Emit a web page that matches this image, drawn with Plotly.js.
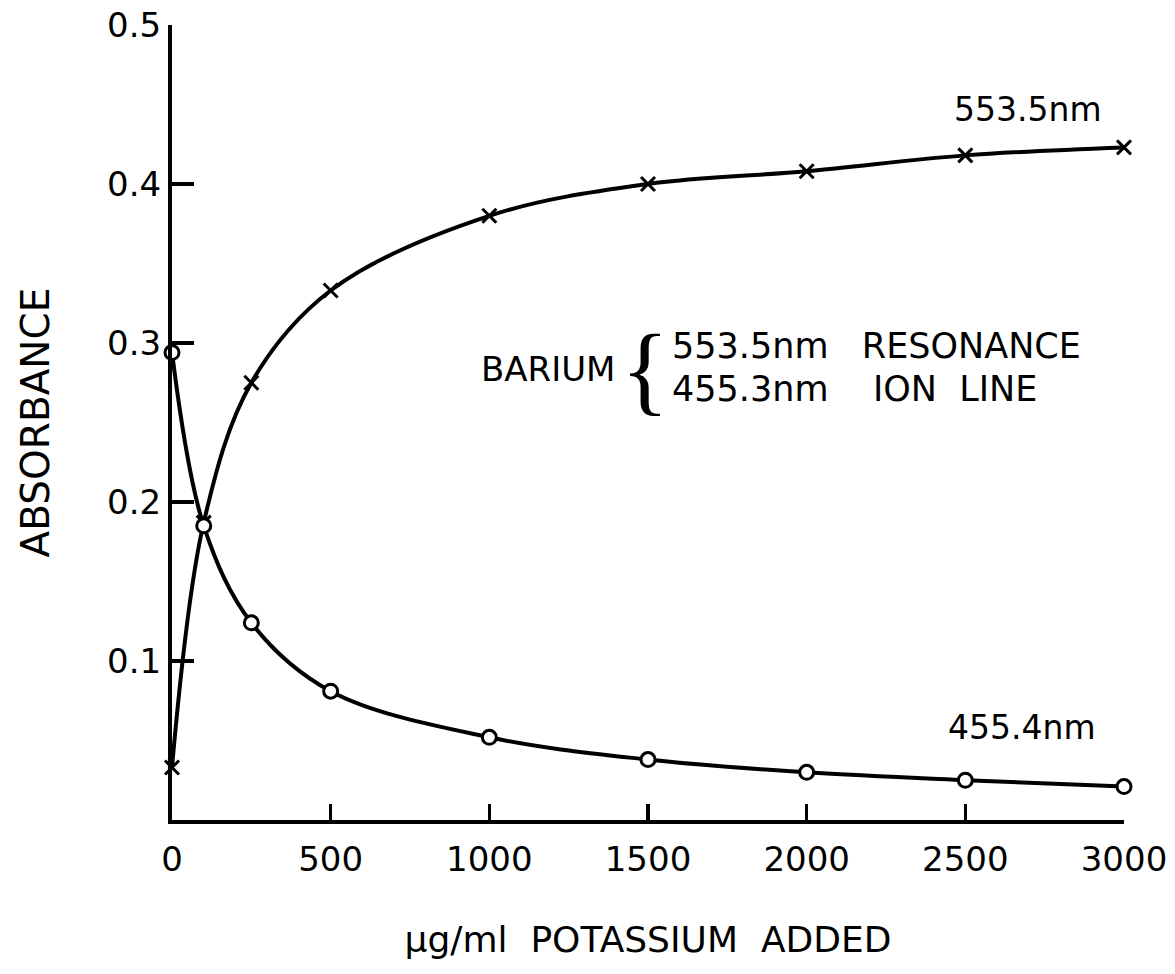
<!DOCTYPE html>
<html>
<head>
<meta charset="utf-8">
<script src="https://cdn.plot.ly/plotly-3.0.1.min.js"></script>
<style>html,body{margin:0;padding:0;background:#fff;}#chart{width:1175px;height:974px;}</style>
</head>
<body>
<div id="chart"></div>
<script>
const potassiumAdded = [0, 100, 250, 500, 1000, 1500, 2000, 2500, 3000];
const absResonance = [0.033, 0.187, 0.275, 0.333, 0.380, 0.400, 0.408, 0.418, 0.423];
const absIonLine = [0.294, 0.185, 0.124, 0.081, 0.052, 0.038, 0.030, 0.025, 0.021];
const xTicks = [0, 500, 1000, 1500, 2000, 2500, 3000];
const yTicks = [0.1, 0.2, 0.3, 0.4, 0.5];
const yTickLabels = ["0.1", "0.2", "0.3", "0.4", "0.5"];

const FONT = "DejaVu Sans, Liberation Sans, sans-serif";
const NB = "\u00a0";
const sp = n => NB.repeat(n);

const traces = [
  {
    x: potassiumAdded, y: absResonance, mode: "lines+markers", type: "scatter",
    line: {color: "#000", width: 4, shape: "spline", smoothing: 1},
    marker: {symbol: "x-thin-open", size: 14, color: "#000", line: {color: "#000", width: 3}},
    cliponaxis: false, showlegend: false
  },
  {
    x: potassiumAdded, y: absIonLine, mode: "lines+markers", type: "scatter",
    line: {color: "#000", width: 4, shape: "spline", smoothing: 1},
    marker: {symbol: "circle", size: 14, color: "#fff", line: {color: "#000", width: 3}},
    cliponaxis: false, showlegend: false
  }
];

const layout = {
  width: 1175, height: 974,
  paper_bgcolor: "#fff", plot_bgcolor: "#fff",
  margin: {l: 172, r: 51, t: 25, b: 154},
  font: {family: FONT, color: "#000", size: 34},
  xaxis: {
    range: [0, 3000], tickvals: xTicks, ticktext: xTicks.map(String),
    ticks: "inside", ticklen: 16, tickwidth: 3.5, tickcolor: "#000",
    showline: true, linewidth: 4, linecolor: "#000", showgrid: false, zeroline: false,
    tickfont: {family: FONT, size: 34, color: "#000"},
    ticklabelstandoff: 6,
    title: {text: "\u03bcg/ml" + sp(2) + "POTASSIUM" + sp(2) + "ADDED", font: {family: FONT, size: 36, color: "#000"}, standoff: 50}
  },
  yaxis: {
    range: [0, 0.5], tickvals: yTicks, ticktext: yTickLabels,
    ticks: "inside", ticklen: 22, tickwidth: 3.5, tickcolor: "#000",
    showline: true, linewidth: 4, linecolor: "#000", showgrid: false, zeroline: false,
    tickfont: {family: FONT, size: 34, color: "#000"},
    ticklabelstandoff: 0,
    title: {text: "ABSORBANCE", font: {family: FONT, size: 39, color: "#000"}, standoff: 46}
  },
  annotations: [
    {x: 2697, y: 0.447, xref: "x", yref: "y", text: "553.5nm", showarrow: false, font: {family: FONT, size: 33, color: "#000"}},
    {x: 2680, y: 0.058, xref: "x", yref: "y", text: "455.4nm", showarrow: false, font: {family: FONT, size: 33, color: "#000"}},
    {x: 1185, y: 0.2836, xref: "x", yref: "y", text: "BARIUM", showarrow: false, font: {family: FONT, size: 34, color: "#000"}},
    {x: 1490, y: 0.2836, xref: "x", yref: "y", text: "{", showarrow: false, font: {family: "Liberation Serif, serif", size: 100, color: "#000"}},
    {x: 1570, y: 0.298, xref: "x", yref: "y", xanchor: "left", text: "553.5nm" + sp(3) + "RESONANCE", showarrow: false, font: {family: FONT, size: 35, color: "#000"}},
    {x: 1570, y: 0.271, xref: "x", yref: "y", xanchor: "left", text: "455.3nm" + sp(4) + "ION" + sp(2) + "LINE", showarrow: false, font: {family: FONT, size: 35, color: "#000"}}
  ]
};

Plotly.newPlot("chart", traces, layout, {displayModeBar: false, staticPlot: true});
</script>
</body>
</html>
